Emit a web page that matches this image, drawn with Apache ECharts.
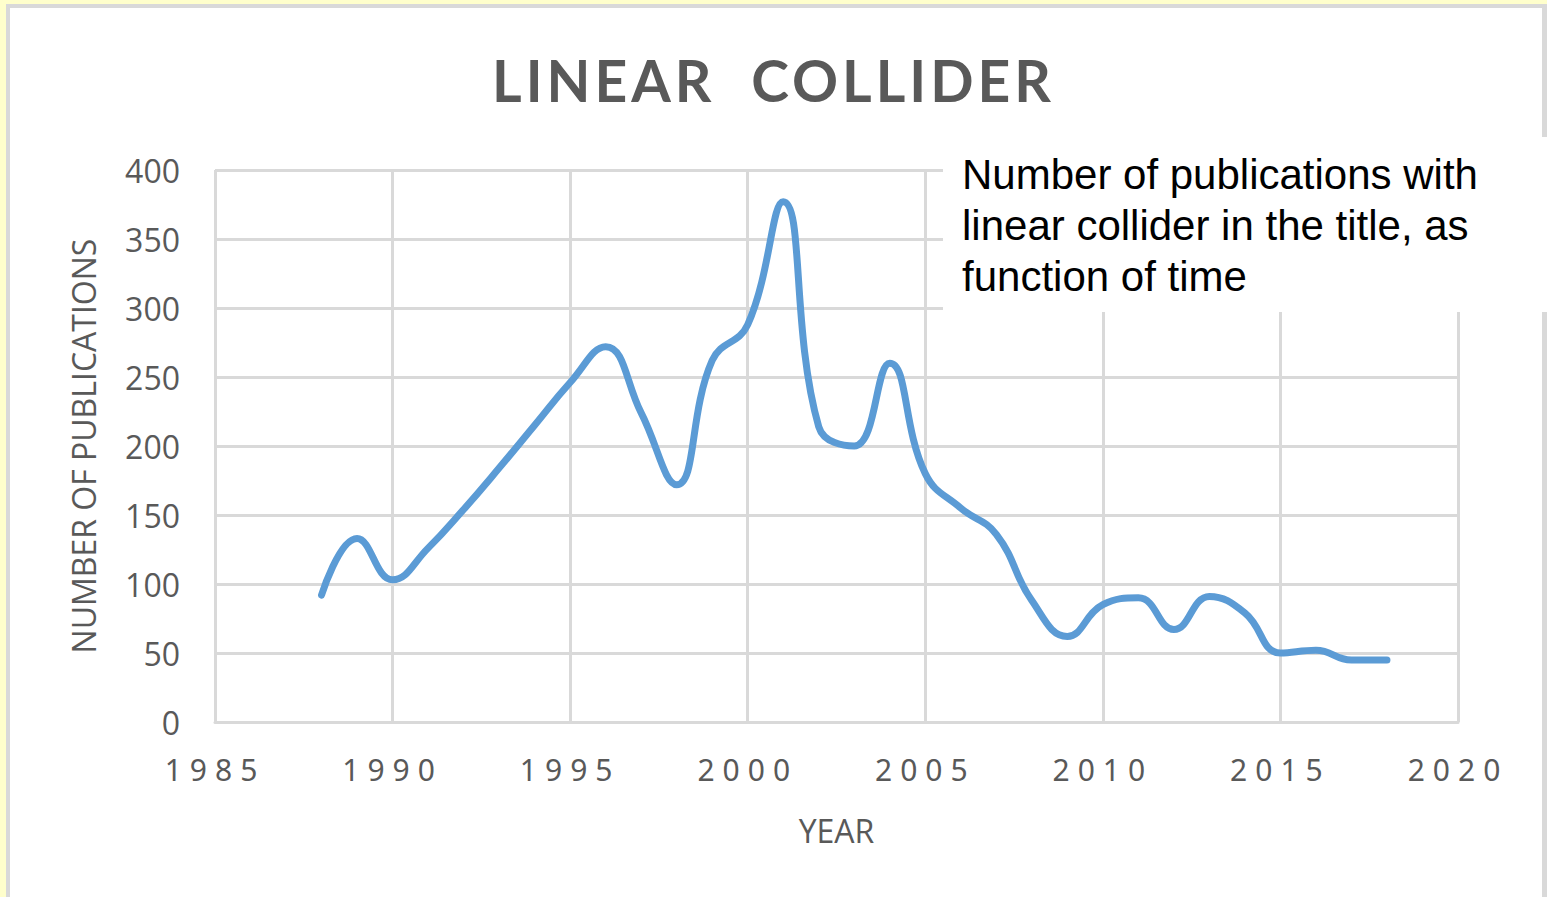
<!DOCTYPE html>
<html>
<head>
<meta charset="utf-8">
<script src="https://cdn.jsdelivr.net/npm/echarts@6/dist/echarts.min.js"></script>
<style>
  html, body { margin: 0; padding: 0; background: #FFFFCC; }
  #frame { position: absolute; left: 6px; top: 4px; width: 1541px; height: 893px; background: #D9D9D9; }
  #inner { position: absolute; left: 10px; top: 8px; width: 1532px; height: 889px; background: #FFFFFF; }
  #chart { position: absolute; left: 0; top: 0; width: 1547px; height: 897px; }
  #chart text[style*="Noto Sans"] { letter-spacing: 8px; }
  #chart text[style*="Lato"] { letter-spacing: 4px; }
</style>
</head>
<body>
<div id="frame"></div>
<div id="inner"></div>
<div id="chart"></div>
<script>
const titleText = 'LINEAR  COLLIDER';
const xAxisName = 'YEAR';
const yAxisName = 'NUMBER OF PUBLICATIONS';
const noteText = 'Number of publications with\nlinear collider in the title, as\nfunction of time';

const years = [1988, 1989, 1990, 1991, 1992, 1993, 1994, 1995, 1996, 1997,
               1998, 1999, 2000, 2001, 2002, 2003, 2004, 2005, 2006, 2007,
               2008, 2009, 2010, 2011, 2012, 2013, 2014, 2015, 2016, 2017, 2018];
const publications = [92, 133, 103, 126, 154, 184, 215, 246, 272, 224,
                      172, 262, 288, 377, 214, 200, 260, 180, 155, 136,
                      88, 62, 85, 90, 67, 91, 79, 50, 52, 45, 45];

const xMin = 1985, xMax = 2020, xStep = 5;
const yMin = 0, yMax = 400, yStep = 50;

const seriesData = years.map((y, i) => [y, publications[i]]);

const chart = echarts.init(document.getElementById('chart'), null, { renderer: 'svg' });
const gridColor = '#D9D9D9';
const textGray = '#595959';

chart.setOption({
  backgroundColor: 'transparent',
  animation: false,
  title: {
    text: titleText,
    left: 'center',
    top: 46,
    textStyle: { fontFamily: 'Lato', fontWeight: 'bold', fontSize: 57, color: textGray }
  },
  grid: { left: 215, right: 89, top: 170, bottom: 175, containLabel: false },
  xAxis: {
    type: 'value',
    min: xMin, max: xMax, interval: xStep,
    name: xAxisName,
    nameLocation: 'middle',
    nameGap: 92,
    nameTextStyle: { fontFamily: 'Open Sans', fontSize: 32, color: textGray },
    axisLine: { show: true, lineStyle: { color: gridColor, width: 3 } },
    axisTick: { show: false },
    axisLabel: {
      margin: 32,
      fontFamily: 'Noto Sans', fontSize: 30, color: textGray,
      formatter: v => String(v)
    },
    splitLine: { show: true, lineStyle: { color: gridColor, width: 3 } }
  },
  yAxis: {
    type: 'value',
    min: yMin, max: yMax, interval: yStep,
    name: yAxisName,
    nameLocation: 'middle',
    nameGap: 116,
    nameRotate: 90,
    nameTextStyle: { fontFamily: 'Open Sans', fontSize: 32, color: textGray },
    axisLine: { show: false },
    axisTick: { show: false },
    axisLabel: { margin: 35, fontFamily: 'Open Sans', fontSize: 32, color: textGray },
    splitLine: { show: true, lineStyle: { color: gridColor, width: 3 } }
  },
  series: [{
    type: 'line',
    data: seriesData,
    smooth: 0.45,
    showSymbol: false,
    lineStyle: { color: '#5B9BD5', width: 7, cap: 'round', join: 'round' },
    z: 3
  }],
  graphic: [
    {
      type: 'rect',
      z: 100,
      shape: { x: 943, y: 137, width: 604, height: 175 },
      style: { fill: '#FFFFFF' }
    },
    {
      type: 'text',
      z: 101,
      left: 962,
      top: 149,
      style: {
        text: noteText,
        fontFamily: 'Liberation Sans',
        fontSize: 42,
        lineHeight: 51,
        fill: '#000000'
      }
    }
  ]
});
</script>
</body>
</html>
